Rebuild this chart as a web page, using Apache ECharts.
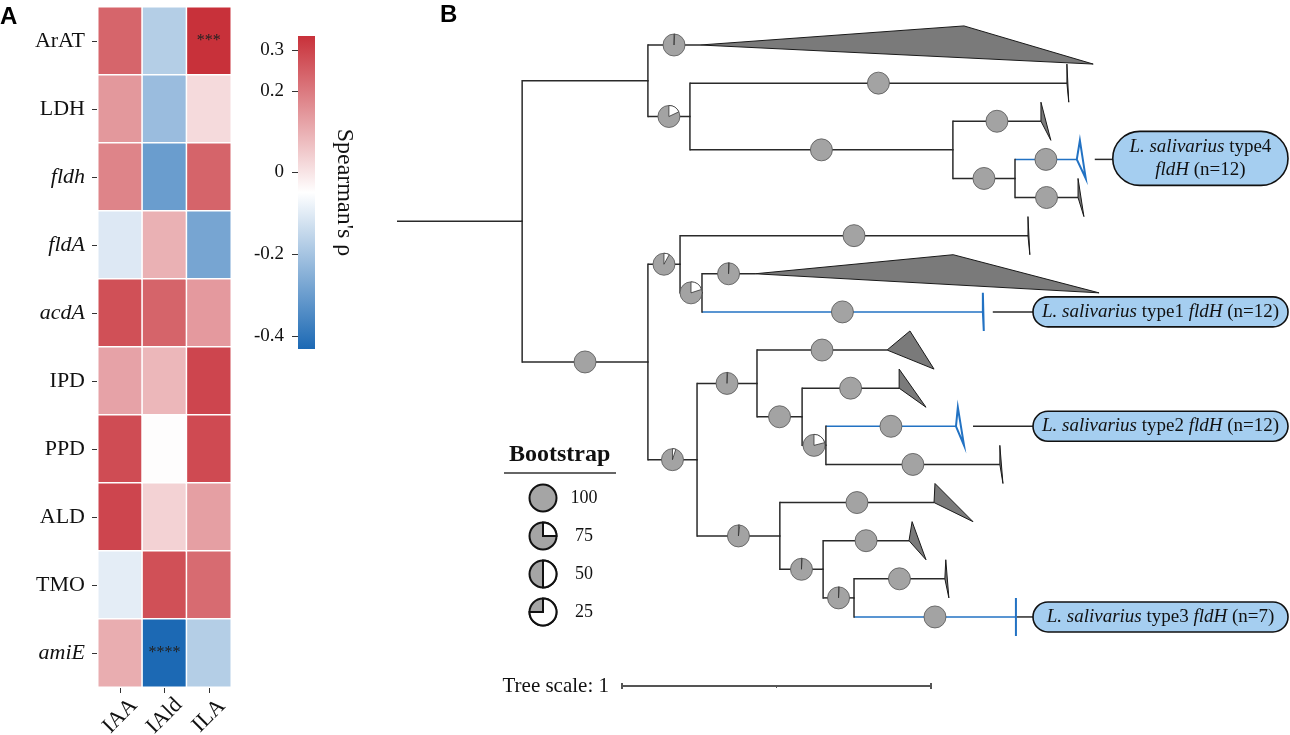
<!DOCTYPE html>
<html><head><meta charset="utf-8">
<script src="https://cdn.jsdelivr.net/npm/echarts@6/dist/echarts.min.js"></script>
<style>html,body{margin:0;padding:0;background:#fff}#c{width:1290px;height:735px}</style>
</head><body><div id="c"></div>
<script>
// ================= DATA =================
// Panel A: Spearman correlation heatmap
const genes = ['ArAT','LDH','fldh','fldA','acdA','IPD','PPD','ALD','TMO','amiE'];
const italicGenes = ['fldh','fldA','acdA','amiE'];
const metabolites = ['IAA','IAld','ILA'];
const rhoIAA  = [0.238, 0.143, 0.180, -0.107, 0.277, 0.123, 0.284, 0.296, -0.095, 0.104];
const rhoIAld = [-0.175, -0.220, -0.300, 0.096, 0.240, 0.085, -0.045, 0.035, 0.277, -0.432];
const rhoILA  = [0.334, 0.020, 0.240, -0.279, 0.140, 0.296, 0.288, 0.130, 0.227, -0.175];
const sigGene = ['ArAT', 'amiE'];
const sigMetab = ['ILA', 'IAld'];
const sigText = ['***', '****'];
const colorbarTicks = [0.3, 0.2, 0, -0.2, -0.4];
const colorbarTitle = "Spearman's ρ";

// Panel B: phylogenetic tree (preorder), branch lengths in tree-scale units
const nodeIds = ['R','A','A1','A2','A2a','A2b','A2b1','A2b2','A2b2a','A2b2b',
                 'B','B1','B1a','B1b','B1b1','B1b2','B2','B2a','B2a1','B2a2','B2a2a','B2a2b','B2a2b1','B2a2b2',
                 'B2b','B2b1','B2b2','B2b2a','B2b2b','B2b2b1','B2b2b2'];
const nodeParent = [null,'R','A','A','A2','A2','A2b','A2b','A2b2','A2b2',
                    'R','B','B1','B1','B1b','B1b','B','B2','B2a','B2a','B2a2','B2a2','B2a2b','B2a2b',
                    'B2','B2b','B2b','B2b2','B2b2','B2b2b','B2b2b'];
const branchLength = [0.405,0.407,0.169,0.136,1.220,0.851,0.285,0.201,0.200,0.204,
                      0.407,0.104,1.126,0.071,0.172,0.909,0.159,0.194,0.421,0.146,0.314,0.077,0.421,0.563,
                      0.268,0.499,0.140,0.278,0.100,0.294,0.524];
const bootstrap = [null,null,99,82,100,100,100,100,100,100,
                   100,92,100,80,99,100,95,99,100,100,100,79,100,100,
                   98,100,99,100,99,100,100];
// collapsed clades at leaves: shortest / longest distance inside clade
const cladeLeaf = ['A1','A2a','A2b1','A2b2a','A2b2b','B1a','B1b1','B1b2','B2a1','B2a2a','B2a2b1','B2a2b2','B2b1','B2b2a','B2b2b1','B2b2b2'];
const cladeMin  = [0.854,0.000,0.000,0.010,0.000,0.000,0.641,0.000,0.074,0.000,0.006,0.000,0.003,0.010,0.003,0.000];
const cladeMax  = [1.272,0.006,0.032,0.029,0.019,0.006,1.113,0.003,0.152,0.087,0.026,0.010,0.126,0.055,0.013,0.000];
// highlighted L. salivarius fldH clades
const labelLeaf = ['A2b2a','B1b2','B2a2b1','B2b2b2'];
const labelType = ['type4','type1','type2','type3'];
const labelN    = [12, 12, 12, 7];
const legendBootstrap = [100, 75, 50, 25];
const treeScale = 1;

// ================= LAYOUT / STYLE =================
const SERIF = 'Liberation Serif';
const LINE = '#2a2a2a', BLUE = '#2272c3';
const cmap = ['#1c69b4', '#ffffff', '#c8313a'];
const allRho = rhoIAA.concat(rhoIAld, rhoILA);
const rhoMin = Math.min.apply(null, allRho), rhoMax = Math.max.apply(null, allRho);

const heatData = [];
[rhoIAA, rhoIAld, rhoILA].forEach((arr, xi) => arr.forEach((v, yi) => heatData.push([xi, yi, v])));
const sigLookup = {};
sigGene.forEach((g, k) => sigLookup[metabolites.indexOf(sigMetab[k]) + '-' + genes.indexOf(g)] = sigText[k]);

// tree layout
const unitPx = 309, rowPx = 38.13, treeLeft = 397, firstRowPx = 45;
const children = {}; nodeIds.forEach(id => children[id] = []);
nodeIds.forEach((id, i) => { if (nodeParent[i]) children[nodeParent[i]].push(id); });
const depth = {}, yPos = {};
nodeIds.forEach((id, i) => { depth[id] = (nodeParent[i] ? depth[nodeParent[i]] : 0) + branchLength[i]; });
let leafCounter = 0;
nodeIds.forEach(id => { if (!children[id].length) yPos[id] = leafCounter++; });
for (let k = nodeIds.length - 1; k >= 0; k--) {
  const ch = children[nodeIds[k]];
  if (ch.length) yPos[nodeIds[k]] = (yPos[ch[0]] + yPos[ch[ch.length - 1]]) / 2;
}
const blueSet = new Set(labelLeaf);
const branchData = nodeIds.map((id, i) => {
  const p = nodeParent[i];
  return [p ? depth[p] : 0, depth[id], yPos[id], p ? yPos[p] : yPos[id], blueSet.has(id) ? 1 : 0, p ? 1 : 0];
});
const cladeData = cladeLeaf.map((id, k) => [depth[id], yPos[id], cladeMin[k], cladeMax[k], blueSet.has(id) ? 1 : 0]);
const bootData = [];
nodeIds.forEach((id, i) => {
  if (bootstrap[i] != null) bootData.push([(depth[nodeParent[i]] + depth[id]) / 2, yPos[id], bootstrap[i]]);
});
const labelData = labelLeaf.map((id, k) => [depth[id] + cladeMax[cladeLeaf.indexOf(id)], yPos[id], k]);

const chart = echarts.init(document.getElementById('c'), null, {renderer: 'canvas'});

function cbGradient() {
  const stops = cmap.slice().reverse().map((c, k, a) => ({offset: k / (a.length - 1), color: c}));
  return new echarts.graphic.LinearGradient(0, 0, 0, 1, stops);
}

function legendGraphics() {
  const g = [];
  g.push({type: 'text', left: 509, top: 443, style: {text: 'Bootstrap', font: 'bold 24px "Liberation Serif"', fill: '#111'}});
  g.push({type: 'line', shape: {x1: 504, y1: 473, x2: 616, y2: 473}, style: {stroke: '#333', lineWidth: 1.5}});
  legendBootstrap.forEach((b, k) => {
    const cy = 498 + k * 38, cx = 543, r = 13.5;
    const kids = [{type: 'circle', shape: {cx, cy, r}, style: {fill: '#a5a5a5', stroke: '#111', lineWidth: 2}}];
    if (b < 100) {
      kids.push({type: 'sector', shape: {cx, cy, r, r0: 0, startAngle: -Math.PI / 2,
        endAngle: -Math.PI / 2 + (1 - b / 100) * Math.PI * 2, clockwise: true},
        style: {fill: '#fff', stroke: '#111', lineWidth: 2}});
    }
    kids.push({type: 'text', style: {text: String(b), x: 584, y: cy, align: 'center', verticalAlign: 'middle',
      font: '18px "Liberation Serif"', fill: '#111'}});
    g.push({type: 'group', children: kids});
  });
  g.push({type: 'text', left: 0, top: 5, style: {text: 'A', font: 'bold 24px "Liberation Sans"', fill: '#000'}});
  g.push({type: 'text', left: 440, top: 3, style: {text: 'B', font: 'bold 24px "Liberation Sans"', fill: '#000'}});
  return g;
}

const option = {
  animation: false,
  backgroundColor: '#fff',
  grid: [
    {left: 98, top: 7, width: 133, height: 680, outerBoundsMode: 'none', containLabel: false},
    {left: 298, top: 36, width: 17, height: 313, outerBoundsMode: 'none', containLabel: false},
    {left: treeLeft, top: 0, width: 1290 - treeLeft, height: 735, outerBoundsMode: 'none', containLabel: false}
  ],
  xAxis: [
    {type: 'category', gridIndex: 0, data: metabolites, position: 'bottom',
      axisLine: {show: false}, axisTick: {show: true, alignWithLabel: true, length: 6, lineStyle: {color: '#333'}},
      axisLabel: {rotate: 45, margin: 29, align: 'center', verticalAlign: 'middle',
        fontSize: 22, fontFamily: SERIF, color: '#111'}, splitLine: {show: false}},
    {type: 'category', gridIndex: 1, data: [''], show: false},
    {type: 'value', gridIndex: 2, min: 0, max: (1290 - treeLeft) / unitPx, show: false}
  ],
  yAxis: [
    {type: 'category', gridIndex: 0, data: genes, inverse: true,
      axisLine: {show: false}, axisTick: {show: true, alignWithLabel: true, length: 6, lineStyle: {color: '#333'}},
      axisLabel: {margin: 13, fontSize: 22, fontFamily: SERIF, color: '#111',
        formatter: v => italicGenes.includes(v) ? '{i|' + v + '}' : v,
        rich: {i: {fontStyle: 'italic', fontSize: 22, fontFamily: SERIF, color: '#111'}}}},
    {type: 'value', gridIndex: 1, min: rhoMin, max: rhoMax, position: 'left',
      axisLine: {show: false}, splitLine: {show: false},
      axisTick: {show: true, customValues: colorbarTicks, length: 6, lineStyle: {color: '#333'}},
      axisLabel: {customValues: colorbarTicks, margin: 14, fontSize: 19, fontFamily: SERIF, color: '#111',
        formatter: v => String(Math.round(v * 10) / 10)}},
    {type: 'value', gridIndex: 1, min: rhoMin, max: rhoMax, position: 'right',
      axisLine: {show: false}, axisTick: {show: false}, axisLabel: {show: false}, splitLine: {show: false},
      name: colorbarTitle, nameLocation: 'middle', nameRotate: -90, nameGap: 17,
      nameTextStyle: {fontSize: 24, fontFamily: SERIF, color: '#111'}},
    {type: 'value', gridIndex: 2, inverse: true, min: -firstRowPx / rowPx, max: (735 - firstRowPx) / rowPx, show: false}
  ],
  visualMap: {type: 'continuous', show: false, min: rhoMin, max: rhoMax, seriesIndex: 0, inRange: {color: cmap}},
  graphic: legendGraphics(),
  series: [
    {type: 'heatmap', xAxisIndex: 0, yAxisIndex: 0, data: heatData,
      itemStyle: {borderColor: '#fff', borderWidth: 1.5},
      label: {show: true, formatter: p => sigLookup[p.data[0] + '-' + p.data[1]] || '', fontSize: 16,
        fontFamily: SERIF, color: '#222'},
      emphasis: {disabled: true}},
    {type: 'custom', xAxisIndex: 1, yAxisIndex: 1, data: [[0, rhoMax, rhoMin]], silent: true,
      renderItem: (params, api) => {
        const t = api.coord([0, api.value(1)]), b = api.coord([0, api.value(2)]);
        const w = api.size([1, 0])[0];
        return {type: 'rect', shape: {x: t[0] - w / 2, y: t[1], width: w, height: b[1] - t[1]}, style: {fill: cbGradient()}};
      }},
    // branches
    {type: 'custom', xAxisIndex: 2, yAxisIndex: 3, data: branchData, clip: false, silent: true, z: 2,
      renderItem: (params, api) => {
        const x0 = api.value(0), x1 = api.value(1), y = api.value(2), py = api.value(3);
        const p0 = api.coord([x0, y]), p1 = api.coord([x1, y]), pv = api.coord([x0, py]);
        const kids = [{type: 'line', shape: {x1: p0[0], y1: p0[1], x2: p1[0], y2: p1[1]},
          style: {stroke: api.value(4) ? BLUE : LINE, lineWidth: 1.5}}];
        if (api.value(5)) kids.push({type: 'line', shape: {x1: pv[0], y1: pv[1], x2: p0[0], y2: p0[1]},
          style: {stroke: LINE, lineWidth: 1.5, lineCap: 'square'}});
        return {type: 'group', children: kids};
      }},
    // collapsed clades
    {type: 'custom', xAxisIndex: 2, yAxisIndex: 3, data: cladeData, clip: false, silent: true, z: 3,
      renderItem: (params, api) => {
        const x = api.value(0), y = api.value(1), dmin = api.value(2), dmax = api.value(3), blue = api.value(4);
        const pts = [api.coord([x, y]), api.coord([x + dmin, y - 0.5]), api.coord([x + dmax, y + 0.5])];
        return {type: 'polygon', shape: {points: pts},
          style: blue ? {fill: '#ffffff', stroke: BLUE, lineWidth: 2} : {fill: '#7a7a7a', stroke: '#1a1a1a', lineWidth: 1}};
      }},
    // bootstrap pies
    {type: 'custom', xAxisIndex: 2, yAxisIndex: 3, data: bootData, clip: false, silent: true, z: 4,
      renderItem: (params, api) => {
        const c = api.coord([api.value(0), api.value(1)]), b = api.value(2), r = 11;
        const kids = [{type: 'circle', shape: {cx: c[0], cy: c[1], r}, style: {fill: '#a3a3a3', stroke: '#555', lineWidth: 0.8}}];
        if (b < 100) kids.push({type: 'sector', shape: {cx: c[0], cy: c[1], r, r0: 0, startAngle: -Math.PI / 2,
          endAngle: -Math.PI / 2 + (1 - b / 100) * Math.PI * 2, clockwise: true},
          style: {fill: '#fff', stroke: '#333', lineWidth: 0.8}});
        return {type: 'group', children: kids};
      }},
    // highlighted labels
    {type: 'custom', xAxisIndex: 2, yAxisIndex: 3, data: labelData, clip: false, silent: true, z: 5,
      renderItem: (params, api) => {
        const p = api.coord([api.value(0), api.value(1)]), k = api.value(2);
        const twoLine = p[0] + 27 > 1060;
        const boxL = twoLine ? p[0] + 27 : 1033, boxR = 1288;
        const h = twoLine ? 54 : 30;
        const cy = p[1] - (twoLine ? 1 : 0);
        const startX = k === 3 ? p[0] + 1 : p[0] + 9;
        const txt = twoLine
          ? '{i|L. salivarius} ' + labelType[k] + '\n{i|fldH} (n=' + labelN[k] + ')'
          : '{i|L. salivarius} ' + labelType[k] + ' {i|fldH} (n=' + labelN[k] + ')';
        return {type: 'group', children: [
          {type: 'line', shape: {x1: startX, y1: p[1], x2: boxL, y2: p[1]}, style: {stroke: LINE, lineWidth: 1.5}},
          {type: 'rect', shape: {x: boxL, y: cy - h / 2, width: boxR - boxL, height: h, r: h / 2},
            style: {fill: '#a5cef0', stroke: '#111', lineWidth: 1.6}},
          {type: 'text', style: {text: txt, x: (boxL + boxR) / 2, y: cy, align: 'center', verticalAlign: 'middle',
            fontSize: 19, fontFamily: SERIF, fill: '#111', lineHeight: 23,
            rich: {i: {fontStyle: 'italic', fontSize: 19, fontFamily: SERIF, fill: '#111', lineHeight: 23}}}}
        ]};
      }},
    // tree scale bar
    {type: 'custom', xAxisIndex: 2, yAxisIndex: 3, data: [[treeScale]], clip: false, silent: true, z: 5,
      renderItem: (params, api) => {
        const len = api.value(0), x0 = (622 - treeLeft) / unitPx, yRow = (686 - firstRowPx) / rowPx;
        const a = api.coord([x0, yRow]), b = api.coord([x0 + len, yRow]), m = api.coord([x0 + len / 2, yRow]);
        const st = {stroke: '#555', lineWidth: 2};
        return {type: 'group', children: [
          {type: 'line', shape: {x1: a[0], y1: a[1], x2: b[0], y2: b[1]}, style: st},
          {type: 'line', shape: {x1: a[0], y1: a[1] - 3, x2: a[0], y2: a[1] + 3}, style: st},
          {type: 'line', shape: {x1: b[0], y1: b[1] - 3, x2: b[0], y2: b[1] + 3}, style: st},
          {type: 'line', shape: {x1: m[0], y1: m[1], x2: m[0], y2: m[1] + 2}, style: {stroke: '#555', lineWidth: 1}},
          {type: 'text', style: {text: 'Tree scale: ' + len, x: a[0] - 13, y: a[1], align: 'right', verticalAlign: 'middle',
            fontSize: 21, fontFamily: SERIF, fill: '#111'}}
        ]};
      }}
  ]
};
chart.setOption(option);
</script></body></html>
